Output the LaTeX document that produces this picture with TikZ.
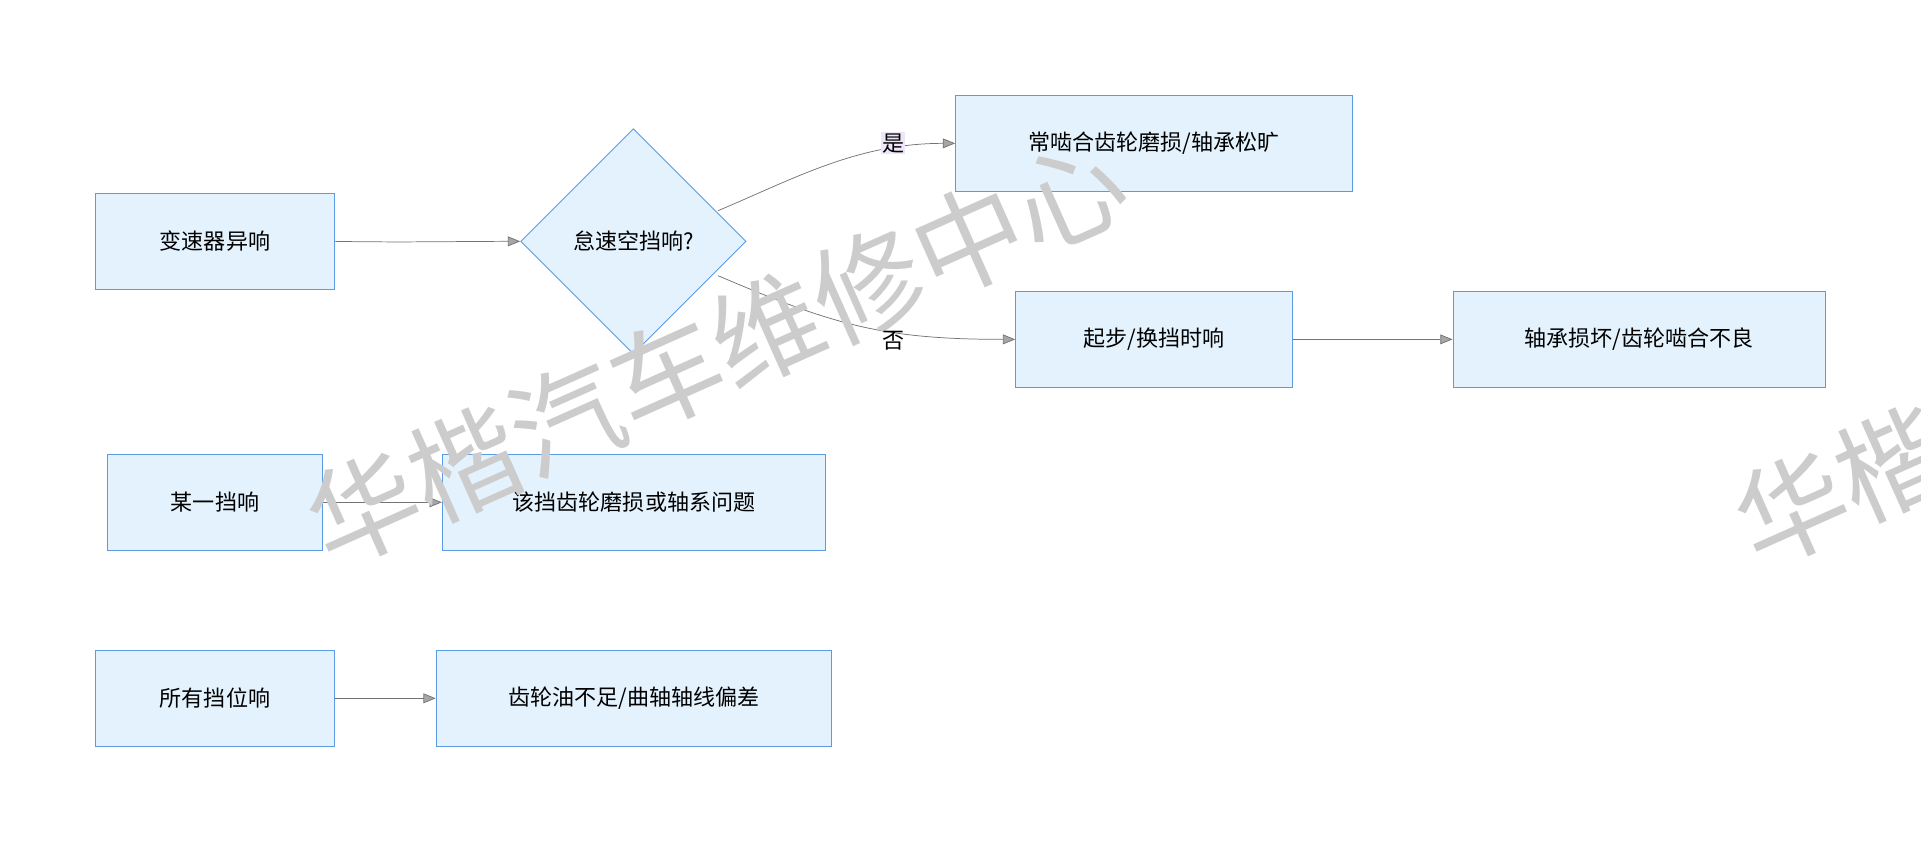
\documentclass[tikz,border=0pt]{standalone}
\usepackage{fontspec}
\setmainfont{Noto Sans CJK SC}
\usetikzlibrary{shapes.geometric,arrows.meta}
\begin{document}
\begin{tikzpicture}[x=1pt,y=-1pt,
  box/.style={draw=boxline,fill=boxfill,line width=0.8pt,minimum height=78pt,inner sep=0pt,font=\fontsize{18}{21}\selectfont},
  arr/.style={draw=gray!90!black,line width=0.6pt,-{Triangle[length=10pt,width=8pt,fill=gray!70]}},
  lab/.style={font=\fontsize{18}{21}\selectfont,inner sep=1pt}]
\definecolor{boxfill}{HTML}{E3F2FD}
\definecolor{boxline}{HTML}{5B9BE6}
\definecolor{labbg}{HTML}{EEE6F8}
\useasboundingbox (0,0) rectangle (1568,686);
\clip (0,0) rectangle (1568,686);
\fill[white] (0,0) rectangle (1568,686);
\node[box,minimum width=195pt] (A) at (175.5,197) {变速器异响};
\node[draw=boxline,fill=boxfill,line width=0.8pt,diamond,minimum width=184pt,minimum height=184pt,inner sep=0pt,font=\fontsize{18}{21}\selectfont] (D) at (517,197) {怠速空挡响?};
\node[box,minimum width=324pt] (B) at (942,117) {常啮合齿轮磨损/轴承松旷};
\node[box,minimum width=226pt] (C) at (942,277) {起步/换挡时响};
\node[box,minimum width=304pt] (E) at (1338,277) {轴承损坏/齿轮啮合不良};
\node[box,minimum width=175pt] (F) at (175.5,410) {某一挡响};
\node[box,minimum width=313pt] (G) at (517.5,410) {该挡齿轮磨损或轴系问题};
\node[box,minimum width=195pt] (H) at (175.5,570) {所有挡位响};
\node[box,minimum width=323pt] (I) at (517.5,570) {齿轮油不足/曲轴轴线偏差};
\coordinate (d1) at (586,172);
\coordinate (d2) at (586,225);
\draw[arr] (A.east) .. controls (330,198) and (370,197) .. (D.west);
\draw[arr] (d1) .. controls (650,145) and (700,117) .. (B.west);
\draw[arr] (d2) .. controls (680,265) and (720,277) .. (C.west);
\draw[arr] (C.east) -- (E.west);
\draw[arr] (F.east) -- (G.west);
\draw[arr] (H.east) -- (I.west);
\node[text=gray!40,rotate=24,font=\fontsize{90}{90}\selectfont] (w1) at (585,287) {华楷汽车维修中心};
\node[text=gray!40,rotate=24,font=\fontsize{90}{90}\selectfont] (w2) at (1750,287) {华楷汽车维修中心};
\node[lab,fill=labbg] (yes) at (729,117) {是};
\node[lab] (no) at (729,278) {否};
\end{tikzpicture}
\end{document}
